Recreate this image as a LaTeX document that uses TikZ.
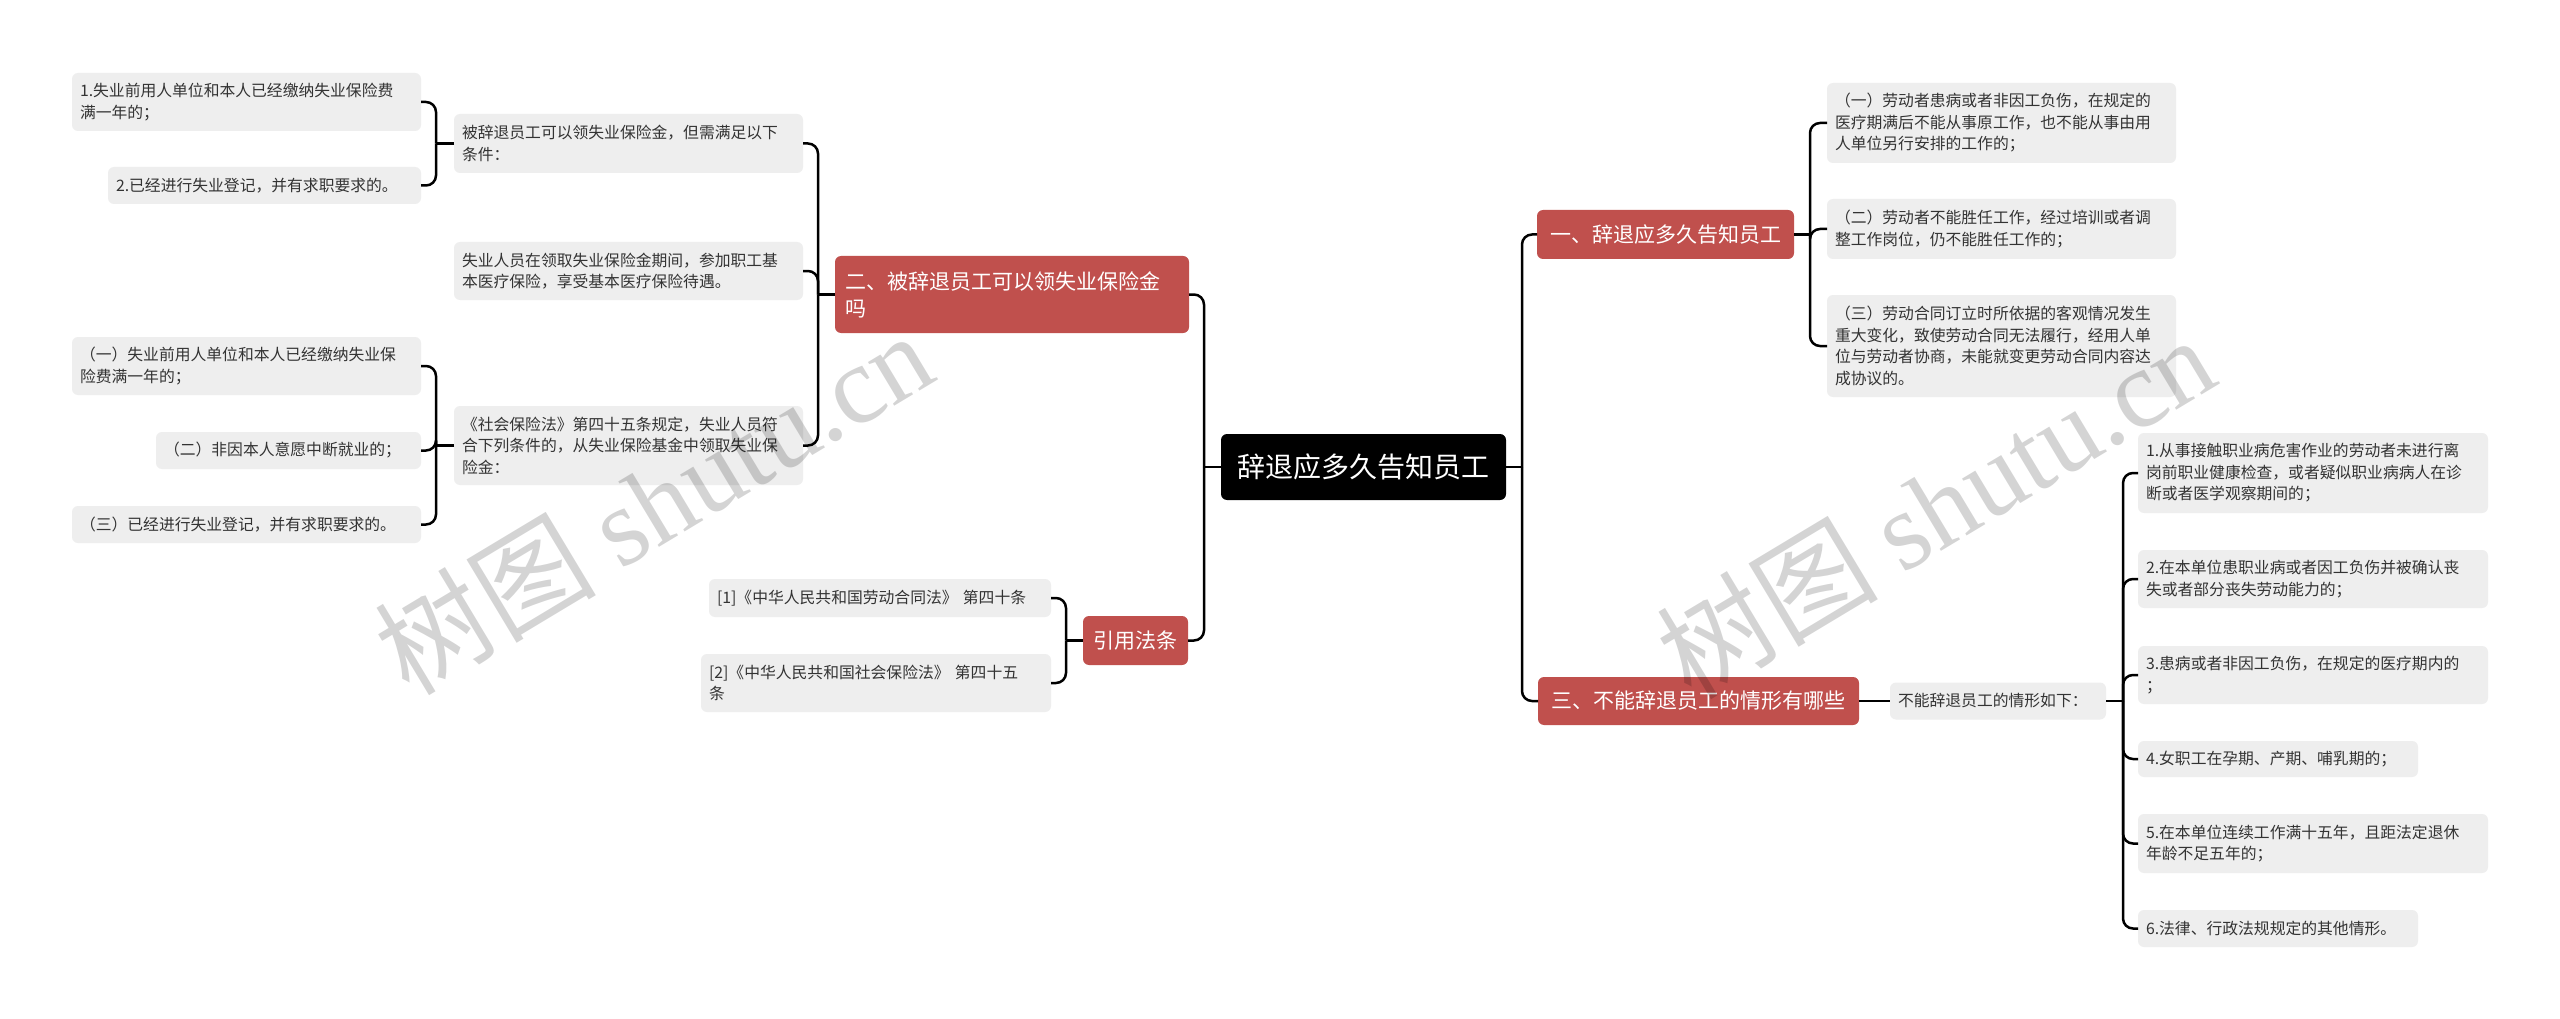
\documentclass[tikz,border=0pt]{standalone}
\usepackage{fontspec}
\setmainfont{Noto Sans CJK SC}
\newfontfamily\wmlatin{Liberation Serif}
\definecolor{nodered}{HTML}{C0504D}
\definecolor{boxgray}{HTML}{EEEEEE}
\definecolor{textgray}{HTML}{333333}
\tikzset{
  conn/.style={draw=black, line width=2.5pt, rounded corners=10pt},
  gbox/.style={fill=boxgray, text=textgray, rounded corners=6pt, align=left,
    inner xsep=8pt, inner ysep=0pt, outer sep=0pt,
    font=\fontsize{15.8}{21.5}\selectfont},
  rbox/.style={fill=nodered, text=white, rounded corners=6pt, align=left,
    inner xsep=10pt, inner ysep=0pt, outer sep=0pt,
    font=\fontsize{21}{27}\selectfont},
  cbox/.style={fill=black, text=white, rounded corners=6pt, align=center,
    inner xsep=10pt, inner ysep=0pt, outer sep=0pt,
    font=\fontsize{28}{34}\selectfont},
  wmark/.style={text=black, text opacity=0.17, rotate=31, inner sep=0pt,
    font=\fontsize{111}{116}\selectfont},
}
\begin{document}
\begin{tikzpicture}[x=1pt,y=-1pt]
\useasboundingbox[fill=white] (0,0) rectangle (2560,1019);

% center
\node[cbox, minimum width=285pt, minimum height=66pt] (C) at (1363.5,467) {辞退应多久告知员工};

% left main branches
\node[rbox, text width=334pt, minimum height=77pt] (B2) at (1012,294.5) {二、被辞退员工可以领失业保险金\\吗};
\node[rbox, minimum width=105pt, minimum height=49pt, align=center] (B4) at (1135.5,640.5) {引用法条};

% right main branches
\node[rbox, minimum width=257pt, minimum height=49pt, align=center] (B1) at (1665.5,234.5) {一、辞退应多久告知员工};
\node[rbox, minimum width=321pt, minimum height=48pt, align=center] (B3) at (1698.5,701) {三、不能辞退员工的情形有哪些};

% second level left
\node[gbox, text width=333pt, minimum height=59pt] (M1) at (628.5,143.5) {被辞退员工可以领失业保险金，但需满足以下\\条件：};
\node[gbox, text width=333pt, minimum height=58pt] (M2) at (628.5,271) {失业人员在领取失业保险金期间，参加职工基\\本医疗保险，享受基本医疗保险待遇。};
\node[gbox, text width=333pt, minimum height=79pt] (M3) at (628.5,445.5) {《社会保险法》第四十五条规定，失业人员符\\合下列条件的，从失业保险基金中领取失业保\\险金：};

% third level left
\node[gbox, text width=333pt, minimum height=58pt] (L1) at (246.5,102) {1.失业前用人单位和本人已经缴纳失业保险费\\满一年的；};
\node[gbox, text width=297pt, minimum height=37pt] (L2) at (264.5,185.5) {2.已经进行失业登记，并有求职要求的。};
\node[gbox, text width=333pt, minimum height=58pt] (L3) at (246.5,366) {（一）失业前用人单位和本人已经缴纳失业保\\险费满一年的；};
\node[gbox, text width=249pt, minimum height=37pt] (L4) at (288.5,450.5) {（二）非因本人意愿中断就业的；};
\node[gbox, text width=333pt, minimum height=37pt] (L5) at (246.5,524.5) {（三）已经进行失业登记，并有求职要求的。};

% references
\node[gbox, text width=326pt, minimum height=38pt] (R1) at (880,598) {[1]《中华人民共和国劳动合同法》 第四十条};
\node[gbox, text width=334pt, minimum height=58pt] (R2) at (876,683) {[2]《中华人民共和国社会保险法》 第四十五\\条};

% right children of B1
\node[gbox, text width=333pt, minimum height=80pt] (S1) at (2001.5,123) {（一）劳动者患病或者非因工负伤，在规定的\\医疗期满后不能从事原工作，也不能从事由用\\人单位另行安排的工作的；};
\node[gbox, text width=333pt, minimum height=60pt] (S2) at (2001.5,229) {（二）劳动者不能胜任工作，经过培训或者调\\整工作岗位，仍不能胜任工作的；};
\node[gbox, text width=333pt, minimum height=102pt] (S3) at (2001.5,346) {（三）劳动合同订立时所依据的客观情况发生\\重大变化，致使劳动合同无法履行，经用人单\\位与劳动者协商，未能就变更劳动合同内容达\\成协议的。};

% B3 children
\node[gbox, text width=200pt, minimum height=37pt] (T0) at (1998,701) {不能辞退员工的情形如下：};
\node[gbox, text width=334pt, minimum height=80pt] (T1) at (2313,473) {1.从事接触职业病危害作业的劳动者未进行离\\岗前职业健康检查，或者疑似职业病病人在诊\\断或者医学观察期间的；};
\node[gbox, text width=334pt, minimum height=58pt] (T2) at (2313,579) {2.在本单位患职业病或者因工负伤并被确认丧\\失或者部分丧失劳动能力的；};
\node[gbox, text width=334pt, minimum height=58pt] (T3) at (2313,675) {3.患病或者非因工负伤，在规定的医疗期内的\\；};
\node[gbox, text width=264pt, minimum height=36pt] (T4) at (2278,759) {4.女职工在孕期、产期、哺乳期的；};
\node[gbox, text width=334pt, minimum height=59pt] (T5) at (2313,843.5) {5.在本单位连续工作满十五年，且距法定退休\\年龄不足五年的；};
\node[gbox, text width=264pt, minimum height=37pt] (T6) at (2278,928.5) {6.法律、行政法规规定的其他情形。};

% junction coordinates
\coordinate (cL) at (1204,467);
\coordinate (cR) at (1522,467);
\coordinate (b2L) at (818,294.5);
\coordinate (m1L) at (436,143.5);
\coordinate (m3L) at (436,445.5);
\coordinate (b4L) at (1066,640.5);
\coordinate (b1R) at (1810,234.5);
\coordinate (t0R) at (2123,701);

% connectors
\draw[conn] (C.west) -- (cL);
\draw[conn] (cL) |- (B2.east);
\draw[conn] (cL) |- (B4.east);
\draw[conn] (C.east) -- (cR);
\draw[conn] (cR) |- (B1.west);
\draw[conn] (cR) |- (B3.west);

\draw[conn] (B2.west) -- (b2L);
\draw[conn] (b2L) |- (M1.east);
\draw[conn] (b2L) |- (M2.east);
\draw[conn] (b2L) |- (M3.east);

\draw[conn] (M1.west) -- (m1L);
\draw[conn] (m1L) |- (L1.east);
\draw[conn] (m1L) |- (L2.east);

\draw[conn] (M3.west) -- (m3L);
\draw[conn] (m3L) |- (L3.east);
\draw[conn] (m3L) |- (L4.east);
\draw[conn] (m3L) |- (L5.east);

\draw[conn] (B4.west) -- (b4L);
\draw[conn] (b4L) |- (R1.east);
\draw[conn] (b4L) |- (R2.east);

\draw[conn] (B1.east) -- (b1R);
\draw[conn] (b1R) |- (S1.west);
\draw[conn] (b1R) |- (S2.west);
\draw[conn] (b1R) |- (S3.west);

\draw[conn] (B3.east) -- (T0.west);
\draw[conn] (T0.east) -- (t0R);
\draw[conn] (t0R) |- (T1.west);
\draw[conn] (t0R) |- (T2.west);
\draw[conn] (t0R) |- (T3.west);
\draw[conn] (t0R) |- (T4.west);
\draw[conn] (t0R) |- (T5.west);
\draw[conn] (t0R) |- (T6.west);

% watermarks
\node[wmark] (wm1) at (653,502) {树图 {\wmlatin shutu.cn}};
\node[wmark] (wm2) at (1935,506) {树图 {\wmlatin shutu.cn}};
\end{tikzpicture}
\end{document}
